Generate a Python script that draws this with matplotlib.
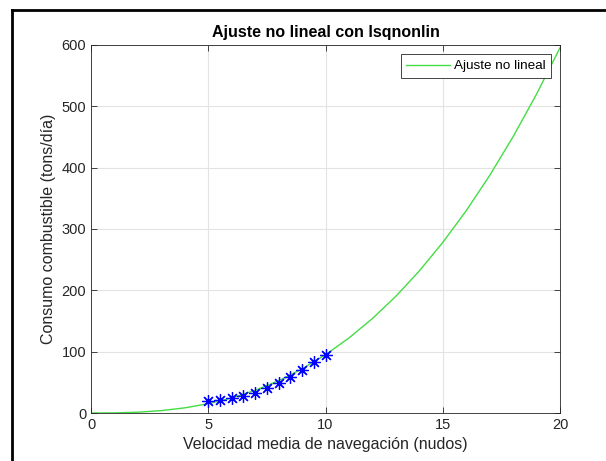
import matplotlib.pyplot as plt
from matplotlib.lines import Line2D

# datos medidos (velocidad en nudos, consumo en tons/dia)
vel = [5.0, 5.5, 6.0, 6.5, 7.0, 7.5, 8.0, 8.5, 9.0, 9.5, 10.0]
consumo = [20.0, 21.7, 23.8, 27.1, 32.6, 40.1, 48.9, 59.2, 70.6, 83.2, 95.1]

# curva ajustada
vel_ajuste = list(range(0, 21))
consumo_ajuste = [0.0, 0.2, 1.3, 3.9, 8.4, 15.2, 24.6, 36.9, 52.6, 71.9, 95.0,
                  122.3, 154.0, 190.3, 231.6, 278.0, 329.8, 387.2, 450.5, 519.9, 595.5]

plt.rcParams['font.family'] = ['Liberation Sans', 'DejaVu Sans']

fig = plt.figure(figsize=(6.06, 4.61), dpi=100)
ax = fig.add_axes([91 / 606, 1 - 413 / 461, (560 - 91) / 606, (413 - 45) / 461])

ax.plot(vel_ajuste, consumo_ajuste, color='#44dd44', linewidth=1.0, label='Ajuste no lineal')
# asterisco estilo matlab
ax.plot(vel, consumo, linestyle='none', marker=(8, 2, 0), color='#0000ff', markersize=9,
        markeredgewidth=0.9)

ax.set_xlim(0, 20)
ax.set_ylim(0, 600)
ax.set_xticks([0, 5, 10, 15, 20])
ax.set_yticks([0, 100, 200, 300, 400, 500, 600])
ax.grid(True, color='#e3e3e3', linewidth=0.8)
ax.set_axisbelow(True)
for s in ax.spines.values():
    s.set_color('#262626')
    s.set_linewidth(0.6)
ax.tick_params(direction='in', length=4, width=0.6, colors='#262626',
               labelsize=10.5, top=True, right=True, labeltop=False, labelright=False)

ax.set_xlabel('Velocidad media de navegación (nudos)', fontsize=11.5, color='#262626')
ax.set_ylabel('Consumo combustible (tons/día)', fontsize=11.5, color='#262626')
ax.set_title('Ajuste no lineal con lsqnonlin', fontsize=11.5, fontweight='bold', pad=6)

leg = ax.legend(loc='upper right', fontsize=9.7, fancybox=False, framealpha=1,
                edgecolor='#262626', handlelength=3.2, handletextpad=0.3,
                borderaxespad=0.7)
leg.get_frame().set_linewidth(0.6)

# marco negro de la captura
fig.add_artist(Line2D([11.5 / 606, 11.5 / 606], [0, 1 - 10 / 461], color='black',
                      linewidth=2, transform=fig.transFigure))
fig.add_artist(Line2D([11.5 / 606, 1], [1 - 10 / 461, 1 - 10 / 461], color='black',
                      linewidth=2, transform=fig.transFigure))

plt.savefig('out.png', dpi=100)
